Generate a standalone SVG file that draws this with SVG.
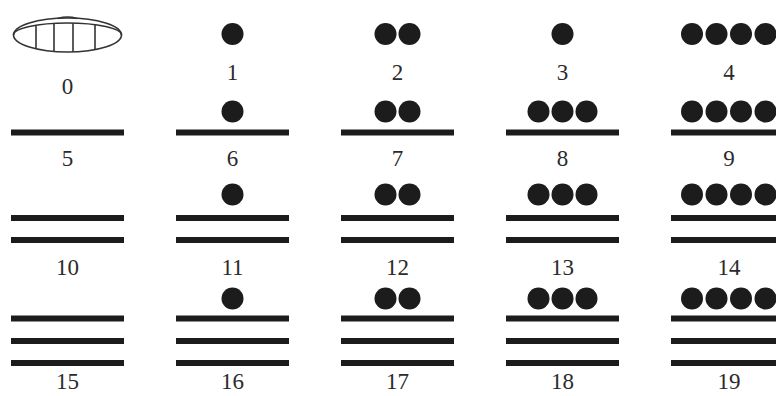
<svg xmlns="http://www.w3.org/2000/svg" xmlns:xlink="http://www.w3.org/1999/xlink" width="776" height="396" viewBox="0 0 776 396">
<style>
.bar{fill:#1c1c1c}
.dot{fill:#1c1c1c}
.lbl{font-family:"Liberation Serif","DejaVu Serif",serif;font-size:23px;fill:#2b2b2b;text-anchor:middle}
.shell{fill:none;stroke:#333;stroke-width:1.6}
</style>
<defs>
<rect id="b" class="bar" x="-56.5" y="-3" width="113" height="6"/>
<circle id="d" class="dot" r="11"/>
<clipPath id="shellclip"><path d="M13.5,35 A54,12 0 0 1 121.5,35 A54,17 0 0 1 13.5,35 Z"/></clipPath>
</defs>
<rect width="776" height="396" fill="#fff"/>

<g id="n0">
<ellipse class="shell" cx="67.5" cy="35" rx="54" ry="17"/>
<path class="shell" d="M13.5,35 A54,12 0 0 1 121.5,35"/>
<path class="shell" d="M58,18.4 Q67.5,15.5 77,18.4"/>
<g clip-path="url(#shellclip)" class="shell">
<line x1="36" y1="15" x2="36" y2="55"/>
<line x1="54" y1="15" x2="54" y2="55"/>
<line x1="73" y1="15" x2="73" y2="55"/>
<line x1="95" y1="15" x2="95" y2="55"/>
</g>
<text class="lbl" x="67.5" y="94">0</text>
</g>
<g id="n1"><use xlink:href="#d" x="232.5" y="34"/><text class="lbl" x="232.5" y="80">1</text></g>
<g id="n2"><use xlink:href="#d" x="385.5" y="34"/><use xlink:href="#d" x="409.5" y="34"/><text class="lbl" x="397.5" y="80">2</text></g>
<g id="n3"><use xlink:href="#d" x="562.5" y="34"/><text class="lbl" x="562.5" y="80">3</text></g>
<g id="n4"><use xlink:href="#d" x="692" y="34"/><use xlink:href="#d" x="716.5" y="34"/><use xlink:href="#d" x="741" y="34"/><use xlink:href="#d" x="765.5" y="34"/><text class="lbl" x="729" y="80">4</text></g>

<g id="n5"><use xlink:href="#b" x="67.5" y="132.5"/><text class="lbl" x="67.5" y="166">5</text></g>
<g id="n6"><use xlink:href="#d" x="232.5" y="111.5"/><use xlink:href="#b" x="232.5" y="132.5"/><text class="lbl" x="232.5" y="166">6</text></g>
<g id="n7"><use xlink:href="#d" x="385.5" y="111.5"/><use xlink:href="#d" x="409.5" y="111.5"/><use xlink:href="#b" x="397.5" y="132.5"/><text class="lbl" x="397.5" y="166">7</text></g>
<g id="n8"><use xlink:href="#d" x="538.5" y="111.5"/><use xlink:href="#d" x="562.5" y="111.5"/><use xlink:href="#d" x="586.5" y="111.5"/><use xlink:href="#b" x="562.5" y="132.5"/><text class="lbl" x="562.5" y="166">8</text></g>
<g id="n9"><use xlink:href="#d" x="692" y="111.5"/><use xlink:href="#d" x="716.5" y="111.5"/><use xlink:href="#d" x="741" y="111.5"/><use xlink:href="#d" x="765.5" y="111.5"/><use xlink:href="#b" x="727.5" y="132.5"/><text class="lbl" x="729" y="166">9</text></g>

<g id="n10"><use xlink:href="#b" x="67.5" y="218"/><use xlink:href="#b" x="67.5" y="240"/><text class="lbl" x="67.5" y="275">10</text></g>
<g id="n11"><use xlink:href="#d" x="232.5" y="194.5"/><use xlink:href="#b" x="232.5" y="218"/><use xlink:href="#b" x="232.5" y="240"/><text class="lbl" x="232.5" y="275">11</text></g>
<g id="n12"><use xlink:href="#d" x="385.5" y="194.5"/><use xlink:href="#d" x="409.5" y="194.5"/><use xlink:href="#b" x="397.5" y="218"/><use xlink:href="#b" x="397.5" y="240"/><text class="lbl" x="397.5" y="275">12</text></g>
<g id="n13"><use xlink:href="#d" x="538.5" y="194.5"/><use xlink:href="#d" x="562.5" y="194.5"/><use xlink:href="#d" x="586.5" y="194.5"/><use xlink:href="#b" x="562.5" y="218"/><use xlink:href="#b" x="562.5" y="240"/><text class="lbl" x="562.5" y="275">13</text></g>
<g id="n14"><use xlink:href="#d" x="692" y="194.5"/><use xlink:href="#d" x="716.5" y="194.5"/><use xlink:href="#d" x="741" y="194.5"/><use xlink:href="#d" x="765.5" y="194.5"/><use xlink:href="#b" x="727.5" y="218"/><use xlink:href="#b" x="727.5" y="240"/><text class="lbl" x="729" y="275">14</text></g>

<g id="n15"><use xlink:href="#b" x="67.5" y="318.5"/><use xlink:href="#b" x="67.5" y="341"/><use xlink:href="#b" x="67.5" y="363"/><text class="lbl" x="67.5" y="389">15</text></g>
<g id="n16"><use xlink:href="#d" x="232.5" y="298.5"/><use xlink:href="#b" x="232.5" y="318.5"/><use xlink:href="#b" x="232.5" y="341"/><use xlink:href="#b" x="232.5" y="363"/><text class="lbl" x="232.5" y="389">16</text></g>
<g id="n17"><use xlink:href="#d" x="385.5" y="298.5"/><use xlink:href="#d" x="409.5" y="298.5"/><use xlink:href="#b" x="397.5" y="318.5"/><use xlink:href="#b" x="397.5" y="341"/><use xlink:href="#b" x="397.5" y="363"/><text class="lbl" x="397.5" y="389">17</text></g>
<g id="n18"><use xlink:href="#d" x="538.5" y="298.5"/><use xlink:href="#d" x="562.5" y="298.5"/><use xlink:href="#d" x="586.5" y="298.5"/><use xlink:href="#b" x="562.5" y="318.5"/><use xlink:href="#b" x="562.5" y="341"/><use xlink:href="#b" x="562.5" y="363"/><text class="lbl" x="562.5" y="389">18</text></g>
<g id="n19"><use xlink:href="#d" x="692" y="298.5"/><use xlink:href="#d" x="716.5" y="298.5"/><use xlink:href="#d" x="741" y="298.5"/><use xlink:href="#d" x="765.5" y="298.5"/><use xlink:href="#b" x="727.5" y="318.5"/><use xlink:href="#b" x="727.5" y="341"/><use xlink:href="#b" x="727.5" y="363"/><text class="lbl" x="729" y="389">19</text></g>
</svg>
